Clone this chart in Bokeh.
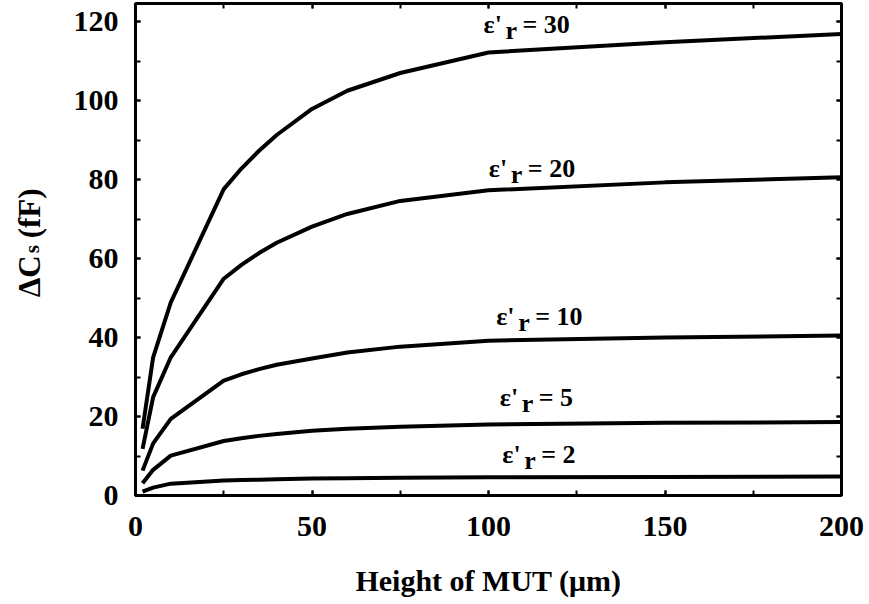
import math
from bokeh.plotting import figure
from bokeh.layouts import row
from bokeh.models import (Range1d, LinearAxis, SingleIntervalTicker,
                          ColumnDataSource, CustomJSTickFormatter)
from bokeh.core.properties import value
from bokeh.embed import file_html
from bokeh.resources import INLINE

# ---------------- data ----------------
height_um = [2, 5, 10, 25, 30, 35, 40, 50, 60, 75, 100, 150, 200]
eps30 = [16.9, 35.0, 48.9, 77.6, 82.8, 87.3, 91.3, 97.9, 102.5, 107.0, 112.2, 114.8, 116.9]
eps20 = [11.8, 24.9, 35.0, 54.9, 58.4, 61.4, 64.0, 68.1, 71.3, 74.6, 77.3, 79.3, 80.6]
eps10 = [6.3, 13.2, 19.4, 29.1, 30.7, 32.0, 33.1, 34.7, 36.2, 37.7, 39.2, 40.0, 40.5]
eps5 = [3.1, 6.5, 10.1, 13.8, 14.5, 15.1, 15.6, 16.4, 16.9, 17.4, 18.0, 18.4, 18.6]
eps2 = [1.0, 2.0, 3.0, 3.8, 3.9, 4.0, 4.1, 4.3, 4.4, 4.5, 4.6, 4.7, 4.8]

label_values = ["30", "20", "10", "5", "2"]
label_x = [98.6, 100.1, 102.2, 103.2, 103.9]
label_y = [116.9, 80.6, 43.0, 22.5, 8.0]

FONT = "Liberation Serif"
Y_END = 124.6
H = 604
TOP_B = 3
BOT_B = H - 495

yr = Range1d(0, Y_END)

p = figure(width=806, height=H, x_range=Range1d(0, 200), y_range=yr,
           output_backend="svg", toolbar_location=None,
           min_border_left=75, min_border_right=25, min_border_top=TOP_B,
           min_border_bottom=BOT_B)
p.grid.visible = False
p.outline_line_color = "black"
p.outline_line_width = 3
p.background_fill_color = "white"
p.border_fill_color = "white"

for ys in [eps30, eps20, eps10, eps5, eps2]:
    p.line(height_um, ys, line_color="black", line_width=4)

# curve labels: eps' + subscript r + "= value"
src = ColumnDataSource(dict(x=label_x, y=label_y,
                            eps=["ε'"] * len(label_x),
                            sub=["r"] * len(label_x),
                            rest=["= " + v for v in label_values]))
common = dict(source=src, text_font=value(FONT), text_font_style="bold",
              text_font_size="26px", text_color="black",
              text_baseline="alphabetic", text_align="left")
p.text(x="x", y="y", text="eps", y_offset=-9, **common)
p.text(x="x", y="y", text="sub", x_offset=22, y_offset=-3, **common)
p.text(x="x", y="y", text="rest", x_offset=39, y_offset=-9, **common)

def style_axis(ax):
    ax.axis_line_width = 3
    ax.axis_line_color = "black"
    ax.major_tick_in = 5
    ax.major_tick_out = 0
    ax.minor_tick_in = 5
    ax.minor_tick_out = 0
    ax.major_tick_line_width = 2
    ax.minor_tick_line_width = 2
    ax.major_tick_line_color = "black"
    ax.minor_tick_line_color = "black"
    ax.major_label_text_font = FONT
    ax.major_label_text_font_style = "bold"
    ax.major_label_text_font_size = "30px"
    ax.major_label_text_color = "black"

p.xaxis.ticker = SingleIntervalTicker(interval=50, num_minor_ticks=2)
p.yaxis.ticker = SingleIntervalTicker(interval=20, num_minor_ticks=2)
style_axis(p.xaxis[0])
style_axis(p.yaxis[0])
p.xaxis.major_label_standoff = 21
p.yaxis.major_label_standoff = 17
p.xaxis.axis_label = "Height of MUT (μm)"
p.xaxis.axis_label_text_font = FONT
p.xaxis.axis_label_text_font_style = "bold"
p.xaxis.axis_label_text_font_size = "30px"
p.xaxis.axis_label_text_color = "black"
p.xaxis.axis_label_standoff = 25

empty = CustomJSTickFormatter(code="return '';")
top = LinearAxis(ticker=SingleIntervalTicker(interval=50, num_minor_ticks=2), formatter=empty)
right = LinearAxis(ticker=SingleIntervalTicker(interval=20, num_minor_ticks=2), formatter=empty)
for ax in (top, right):
    style_axis(ax)
    ax.major_label_text_font_size = "1px"
    ax.major_label_standoff = 0
p.add_layout(top, "above")
p.add_layout(right, "right")

# y-axis title in a narrow side panel: "ΔC" + subscript s + "(fF)", rotated
lf = figure(width=60, height=H, x_range=Range1d(0, 60), y_range=yr,
            output_backend="svg", toolbar_location=None,
            min_border_left=0, min_border_right=0, min_border_top=TOP_B,
            min_border_bottom=BOT_B)
lf.axis.visible = False
lf.grid.visible = False
lf.outline_line_color = None
lf.background_fill_color = "white"
lf.border_fill_color = "white"

t_common = dict(text_font=value(FONT), text_font_style="bold", text_color="black",
                text_baseline="alphabetic", text_align="left", angle=math.pi / 2)
base_x, base_y, px_per_unit = 29.0, 50.2, 3.95
lf.text(x=[base_x], y=[base_y], text=["ΔC"], text_font_size="31px", **t_common)
lf.text(x=[base_x + 2], y=[base_y + 44 / px_per_unit], text=["s"],
        text_font_size="21px", **t_common)
lf.text(x=[base_x], y=[base_y + 59 / px_per_unit], text=["(fF)"],
        text_font_size="31px", **t_common)

layout = row(lf, p, spacing=0)
open("out.html", "w").write(file_html(layout, INLINE))
